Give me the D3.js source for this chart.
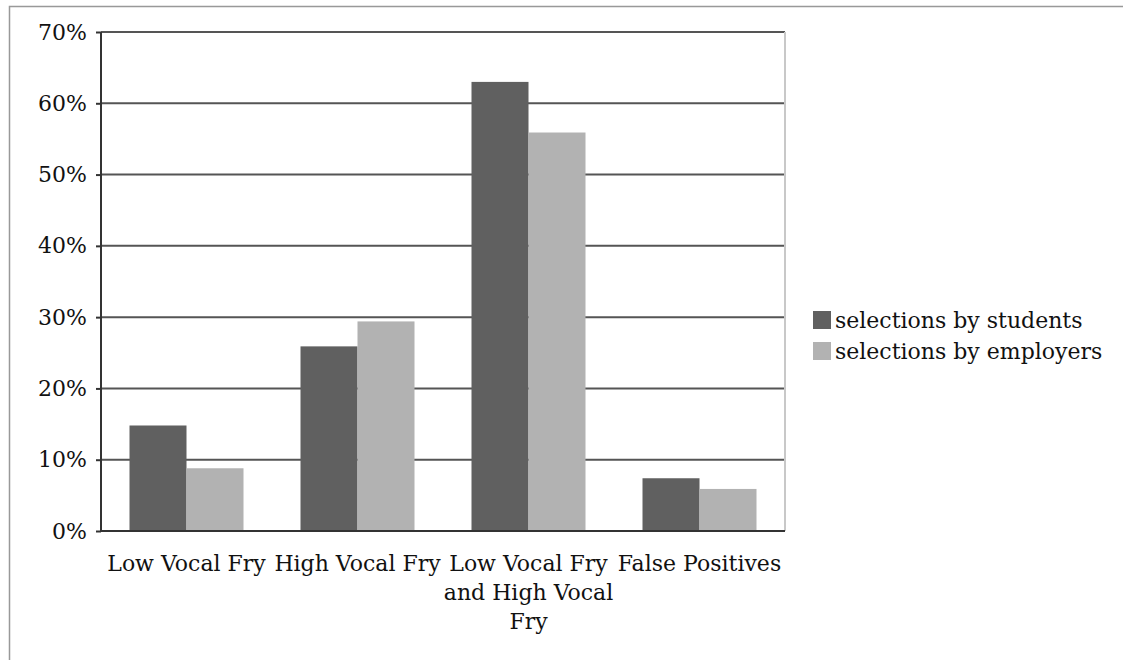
<!DOCTYPE html>
<html>
<head>
<meta charset="utf-8">
<script src="https://cdn.jsdelivr.net/npm/d3@7"></script>
<style>
  body { margin: 0; background: #fff; }
  text { font-family: "DejaVu Serif", "Liberation Serif", serif; fill: #111; }
</style>
</head>
<body>
<script>
// data
var categories = ["Low Vocal Fry", "High Vocal Fry", "Low Vocal Fry and High Vocal Fry", "False Positives"];
var seriesNames = ["selections by students", "selections by employers"];
var students = [14.8, 25.9, 63.0, 7.4];
var employers = [8.8, 29.4, 55.9, 5.9];
var yTicks = [0, 10, 20, 30, 40, 50, 60, 70];
var colors = ["#606060", "#b2b2b2"];

var svgWidth = 1123, svgHeight = 660;
var margin = { top: 32, right: 338, bottom: 129, left: 101 };
var chartWidth = svgWidth - margin.left - margin.right;
var chartHeight = svgHeight - margin.top - margin.bottom;

var svg = d3.select("body").append("svg")
  .attr("width", svgWidth)
  .attr("height", svgHeight);

// outer frame
svg.append("path")
  .attr("d", "M9.5," + svgHeight + " V6.5 H" + svgWidth)
  .attr("fill", "none")
  .attr("stroke", "#999")
  .attr("stroke-width", 1.5);

var chartGroup = svg.append("g")
  .attr("transform", `translate(${margin.left}, ${margin.top})`);

var x0 = d3.scaleBand().domain(categories).range([0, chartWidth]);
var x1 = d3.scaleBand().domain(seriesNames)
  .range([x0.bandwidth() / 6, x0.bandwidth() * 5 / 6]);
var y = d3.scaleLinear().domain([0, 70]).range([chartHeight, 0]);

// gridlines
chartGroup.selectAll(".grid")
  .data(yTicks.filter(d => d > 0))
  .enter()
  .append("line")
  .attr("x1", 0).attr("x2", chartWidth)
  .attr("y1", d => y(d)).attr("y2", d => y(d))
  .attr("stroke", "#555")
  .attr("stroke-width", 2);

// right border
chartGroup.append("line")
  .attr("x1", chartWidth).attr("x2", chartWidth)
  .attr("y1", 0).attr("y2", chartHeight)
  .attr("stroke", "#c8c8c8")
  .attr("stroke-width", 2);

// bars
var rows = categories.map((c, i) => ({ cat: c, vals: [students[i], employers[i]] }));
var groups = chartGroup.selectAll(".grp")
  .data(rows)
  .enter()
  .append("g")
  .attr("transform", d => `translate(${x0(d.cat)},0)`);

groups.selectAll("rect")
  .data(d => d.vals.map((v, j) => ({ s: seriesNames[j], v: v, j: j })))
  .enter()
  .append("rect")
  .attr("x", d => x1(d.s))
  .attr("y", d => y(d.v))
  .attr("width", x1.bandwidth())
  .attr("height", d => chartHeight - y(d.v))
  .attr("fill", d => colors[d.j]);

// axes
var yAxis = d3.axisLeft(y).tickValues(yTicks).tickSize(0).tickPadding(14)
  .tickFormat(d => d + "%");
var yg = chartGroup.append("g").call(yAxis);
yg.select(".domain").remove();
yg.selectAll("text").attr("font-size", "22px").attr("fill", "#111")
  .style("font-family", '"DejaVu Serif", serif');
yg.selectAll(".tick").append("line")
  .attr("x1", -5).attr("x2", 0).attr("stroke", "#333").attr("stroke-width", 2);

chartGroup.append("line")
  .attr("x1", 0).attr("x2", 0).attr("y1", 0).attr("y2", chartHeight)
  .attr("stroke", "#333").attr("stroke-width", 2);
chartGroup.append("line")
  .attr("x1", 0).attr("x2", chartWidth).attr("y1", chartHeight).attr("y2", chartHeight)
  .attr("stroke", "#333").attr("stroke-width", 2);

// x labels with wrapping
var labelLines = {
  "Low Vocal Fry and High Vocal Fry": ["Low Vocal Fry", "and High Vocal", "Fry"]
};
categories.forEach(function (c) {
  var lines = labelLines[c] || [c];
  var t = chartGroup.append("text")
    .attr("text-anchor", "middle")
    .attr("font-size", "22px")
    .attr("transform", `translate(${x0(c) + x0.bandwidth() / 2}, ${chartHeight + 40})`);
  lines.forEach(function (l, i) {
    t.append("tspan").attr("x", 0).attr("y", i * 29).text(l);
  });
});

// legend
var legend = svg.append("g").attr("transform", "translate(813, 311)");
seriesNames.forEach(function (s, i) {
  legend.append("rect")
    .attr("x", 0).attr("y", i * 31)
    .attr("width", 18).attr("height", 18)
    .attr("fill", colors[i]);
  legend.append("text")
    .attr("x", 22).attr("y", i * 31 + 17)
    .attr("font-size", "22px")
    .text(s);
});
</script>
</body>
</html>
